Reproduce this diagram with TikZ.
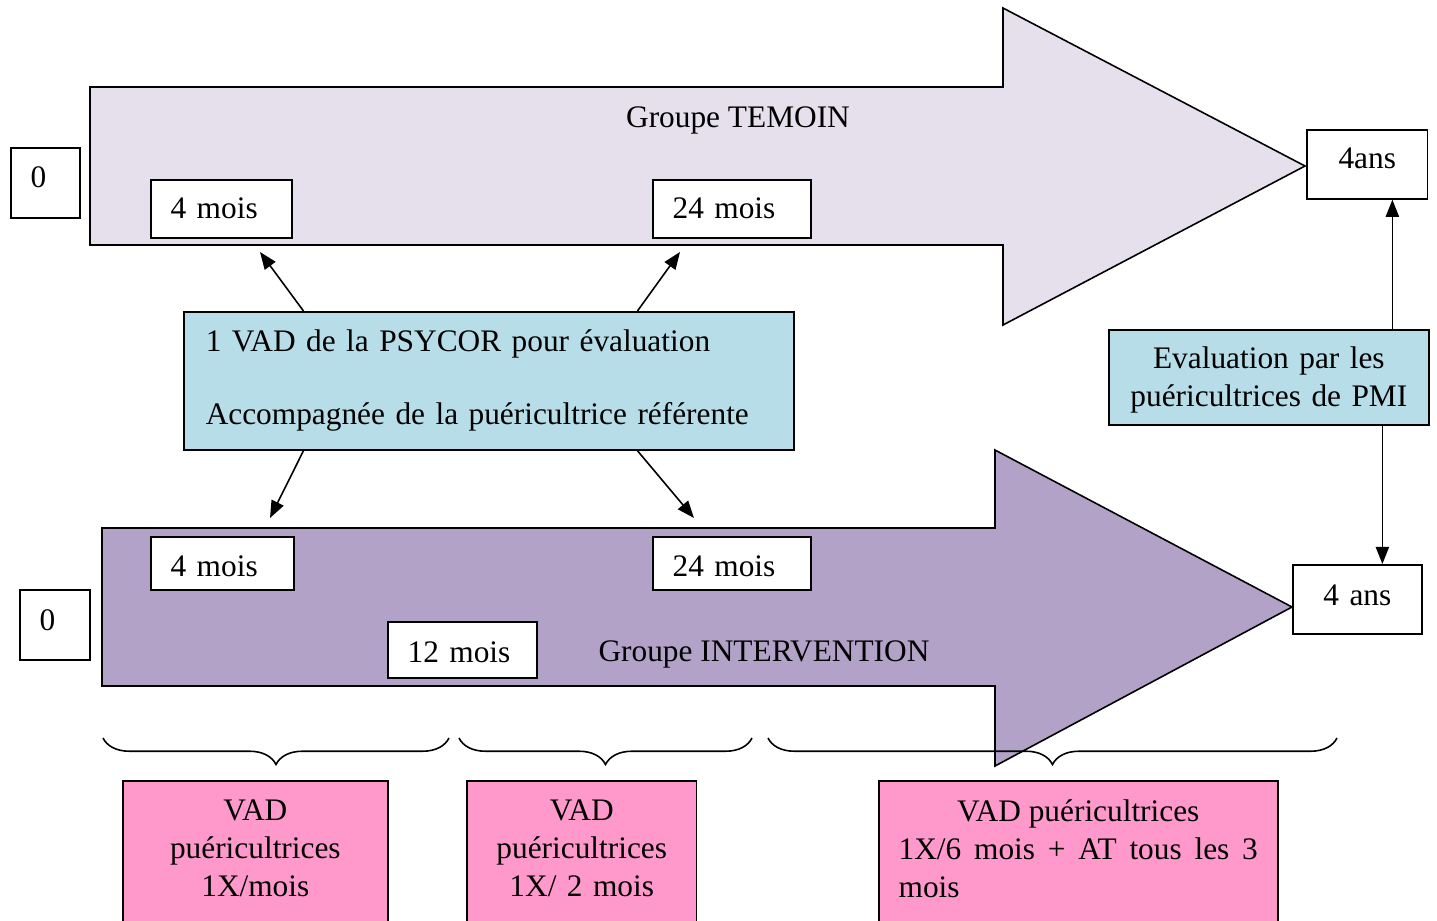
\documentclass[tikz,border=0pt]{standalone}
\usepackage{fontspec}
\setmainfont{Liberation Serif}
\usetikzlibrary{arrows.meta,calc,decorations.pathreplacing}
\definecolor{temoinfill}{HTML}{E5E0EC}
\definecolor{interfill}{HTML}{B2A2C7}
\definecolor{evalfill}{HTML}{B7DDE8}
\definecolor{vadfill}{HTML}{FF99CC}
\begin{document}
\begin{tikzpicture}
[x=0.378pt, y=-0.378pt, font=\fontsize{11.85}{14.4}\selectfont, line width=0.6pt,
   datebox/.style={draw, fill=white, anchor=north west, align=left, inner xsep=7.5pt, inner ysep=0pt},
   endbox/.style={datebox, align=center},
   evalbox/.style={draw, fill=evalfill, anchor=north west, inner xsep=7.5pt, inner ysep=0pt},
   vadbox/.style={draw, fill=vadfill, anchor=north west, inner xsep=7.5pt, inner ysep=7pt, text depth=45pt},
   grouparrow/.style={draw, line join=miter},
   link/.style={-{Triangle[length=6.5pt,width=5pt]}},
   vadbrace/.style={decorate, decoration={brace, mirror, amplitude=10pt}}]
  \useasboundingbox (0,0) rectangle (1437,920);
  \clip (0,0) rectangle (1437,920);
  % groupe temoin
  \draw[grouparrow, fill=temoinfill] (90,87) -- (1003,87) -- (1003,8) -- (1305,166)
     -- (1003,325) -- (1003,245) -- (90,245) -- cycle;
  \node (temoin) at (738,120) {Groupe TEMOIN};
  \node[datebox, text width=11.2pt, text depth=4.6pt, minimum height=26.5pt] (t0) at (10,147) {0};
  \node[datebox, text width=38.3pt, minimum height=21.9pt] (t4) at (150,179) {4 mois};
  \node[datebox, text width=44.7pt, minimum height=21.9pt] (t24) at (652,179) {24 mois};
  \node[endbox, text width=30.7pt, text depth=4.6pt, minimum height=26.1pt] (ans4t) at (1306,129) {4ans};
  % evaluations
  \node[evalbox, align=left, inner xsep=8.3pt, text width=214pt, minimum height=52.2pt] (psycor) at (183,311)
     {1 VAD de la PSYCOR pour évaluation\\[13.2pt] Accompagnée de la puéricultrice référente};
  \node[evalbox, align=center, text width=106pt, text height=10.5pt, minimum height=35.9pt] (eval) at (1108,329)
     {Evaluation par les\\ puéricultrices de PMI};
  % groupe intervention
  \draw[grouparrow, fill=interfill] (102,528) -- (995,528) -- (995,450) -- (1292,607)
     -- (995,766) -- (995,686) -- (102,686) -- cycle;
  \node (interv) at (764,654) {Groupe INTERVENTION};
  \node[datebox, text width=11.6pt, text depth=3.8pt, minimum height=26.5pt] (i0) at (19,589) {0};
  \node[datebox, text width=39.1pt, text height=10.4pt, minimum height=20pt] (i4) at (150,536) {4 mois};
  \node[datebox, text width=44.7pt, text height=10.4pt, minimum height=20pt] (i24) at (652,536) {24 mois};
  \node[datebox, text width=41.3pt, text height=9.6pt, minimum height=21.2pt] (i12) at (387,621) {12 mois};
  \node[endbox, text width=33.8pt, text depth=2.8pt, minimum height=26.1pt] (ans4b) at (1292,564) {4 ans};
  % liens
  \coordinate (t4tip) at (260,252);
  \coordinate (t24tip) at (680,252);
  \coordinate (i4tip) at (270,518);
  \coordinate (i24tip) at (694,518);
  \draw[link] ($(psycor.north west)!0.197!(psycor.north east)$) -- (t4tip);
  \draw[link] ($(psycor.north west)!0.743!(psycor.north east)$) -- (t24tip);
  \draw[link] ($(psycor.south west)!0.197!(psycor.south east)$) -- (i4tip);
  \draw[link] ($(psycor.south west)!0.743!(psycor.south east)$) -- (i24tip);
  \draw[link] ($(eval.north west)!0.884!(eval.north east)$) coordinate (e1) -- (e1 |- ans4t.south);
  \draw[link] ($(eval.south west)!0.853!(eval.south east)$) coordinate (e2) -- (e2 |- ans4b.north);
  % accolades
  \coordinate (b1s) at (103,738);
  \coordinate (b1e) at (449,738);
  \coordinate (b2s) at (459,738);
  \coordinate (b2e) at (752,738);
  \coordinate (b3s) at (768,738);
  \coordinate (b3e) at (1337,738);
  \draw[vadbrace] (b1s) -- (b1e);
  \draw[vadbrace] (b2s) -- (b2e);
  \draw[vadbrace] (b3s) -- (b3e);
  \node[vadbox, align=center, text width=85.2pt] (vad1) at (122,780) {VAD\\ puéricultrices\\ 1X/mois};
  \node[vadbox, align=center, text width=71.9pt] (vad2) at (466,780) {VAD\\ puéricultrices\\ 1X/ 2 mois};
  \node[vadbox, align=justify, text width=135.8pt] (vad3) at (878,780)
     {\hfil VAD puéricultrices\hfil\break 1X/6 mois + AT tous les 3 mois};
\end{tikzpicture}
\end{document}
